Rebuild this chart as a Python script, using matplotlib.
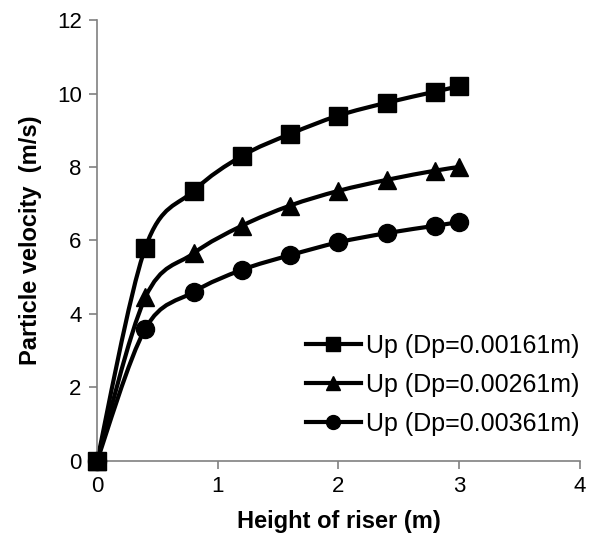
import matplotlib as mpl
mpl.use('Agg')
import matplotlib.pyplot as plt
from matplotlib.path import Path
from matplotlib.patches import PathPatch
import numpy as np

plt.rcParams['font.family'] = ['Liberation Sans', 'DejaVu Sans']

height = [0, 0.4, 0.8, 1.2, 1.6, 2.0, 2.4, 2.8, 3.0]
up_161 = [0, 5.8, 7.35, 8.3, 8.9, 9.4, 9.75, 10.05, 10.2]
up_261 = [0, 4.45, 5.65, 6.4, 6.95, 7.35, 7.65, 7.9, 8.0]
up_361 = [0, 3.6, 4.6, 5.2, 5.6, 5.95, 6.2, 6.4, 6.5]
labels = ['Up (Dp=0.00161m)', 'Up (Dp=0.00261m)', 'Up (Dp=0.00361m)']
markers = ['s', '^', 'o']


def smooth_path(x, y):
    # Excel-style smoothed line: cubic bezier with catmull-rom tangents
    pts = np.column_stack([x, y]).astype(float)
    n = len(pts)
    verts = [pts[0]]
    codes = [Path.MOVETO]
    for i in range(n - 1):
        p0 = pts[max(i - 1, 0)]
        p1 = pts[i]
        p2 = pts[i + 1]
        p3 = pts[min(i + 2, n - 1)]
        c1 = p1 + (p2 - p0) / 6.0
        c2 = p2 - (p3 - p1) / 6.0
        verts += [c1, c2, p2]
        codes += [Path.CURVE4] * 3
    return Path(verts, codes)


fig = plt.figure(figsize=(5.97, 5.41), dpi=100)
ax = fig.add_axes([0.1625, 0.148, 0.809, 0.815])

# draw in reverse so the squares sit on top at the origin
series = list(zip([up_161, up_261, up_361], markers, labels))
for ys, m, lab in series[::-1]:
    ax.add_patch(PathPatch(smooth_path(height, ys), fill=False,
                           lw=3, color='black', capstyle='round',
                           clip_on=False))
    ax.plot(height, ys, ls='none', marker=m, ms=13, color='black',
            clip_on=False, zorder=3)
for ys, m, lab in series:
    ax.plot([], [], '-', marker=m, ms=10, lw=3, color='black', label=lab)

ax.set_xlim(0, 4)
ax.set_ylim(0, 12)
ax.set_xticks([0, 1, 2, 3, 4])
ax.set_yticks([0, 2, 4, 6, 8, 10, 12])
ax.spines['top'].set_visible(False)
ax.spines['right'].set_visible(False)
for s in ['left', 'bottom']:
    ax.spines[s].set_color('#808080')
    ax.spines[s].set_linewidth(1.2)
ax.tick_params(direction='out', length=6, width=1.2, color='#808080',
               labelsize=16, pad=5)
ax.set_xlabel('Height of riser (m)', fontsize=17, fontweight='bold',
              labelpad=9)
ax.set_ylabel('Particle velocity  (m/s)', fontsize=17, fontweight='bold',
              labelpad=11)

ax.legend(loc='lower right', bbox_to_anchor=(1.045, 0.005), frameon=False,
          fontsize=18, handlelength=2.2, handletextpad=0.2, labelspacing=0.6)

plt.savefig('out.png')
